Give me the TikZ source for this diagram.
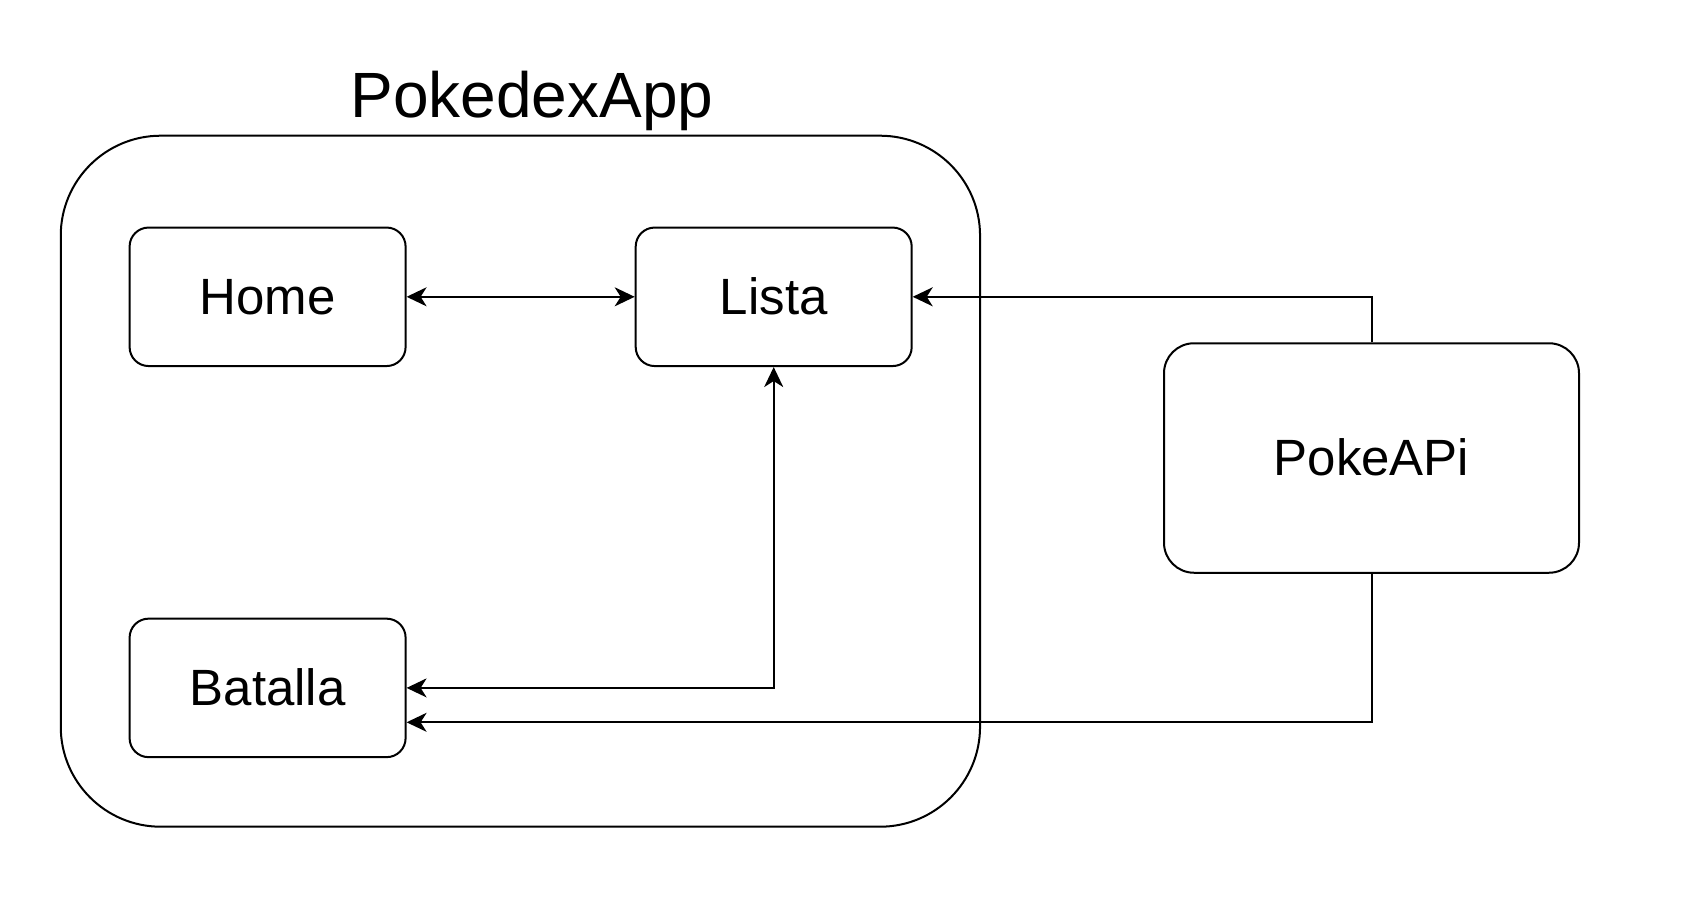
\documentclass[tikz,border=0pt]{standalone}
\usepackage{fontspec}
\setmainfont{Liberation Sans}
\usetikzlibrary{arrows.meta}

\begin{document}
\begin{tikzpicture}[x = 1pt, y = -1pt, line width = 2pt, > = {Stealth[length = 20pt, width = 19pt, inset = 6pt]},
	every node/.style = {rectangle, draw = black, font = \fontsize{51}{61}\selectfont, text height = 35pt, text depth = 0pt},
	screen/.style = {minimum width = 276pt, minimum height = 138.5pt, rounded corners = 19pt}]

	\useasboundingbox (0, 0) rectangle (1692, 921);

	\node (App)      at ( 520.4, 481.2) [minimum width = 919.3pt, minimum height = 691pt, rounded corners = 100pt] {};
	\node (AppTitle) at ( 532,   117.3) [anchor = base, draw = none, font = \fontsize{64}{77}\selectfont] {PokedexApp};

	\node (Home)    at ( 267.6, 296.8) [screen] {Home};
	\node (Lista)   at ( 773.7, 296.8) [screen] {Lista};
	\node (Batalla) at ( 267.6, 687.9) [screen] {Batalla};
	\node (PokeAPi) at (1371.5, 458)   [minimum width = 415pt, minimum height = 229.5pt, rounded corners = 30pt] {PokeAPi};

	\draw [<->] (Home) -- (Lista);
	\draw [<->] (Lista.south) |- (Batalla.east);
	\draw [->] (PokeAPi.north) |- (Lista.east);
	\draw [->] (PokeAPi.south) |- ([yshift = -34.4pt] Batalla.east);
\end{tikzpicture}
\end{document}
